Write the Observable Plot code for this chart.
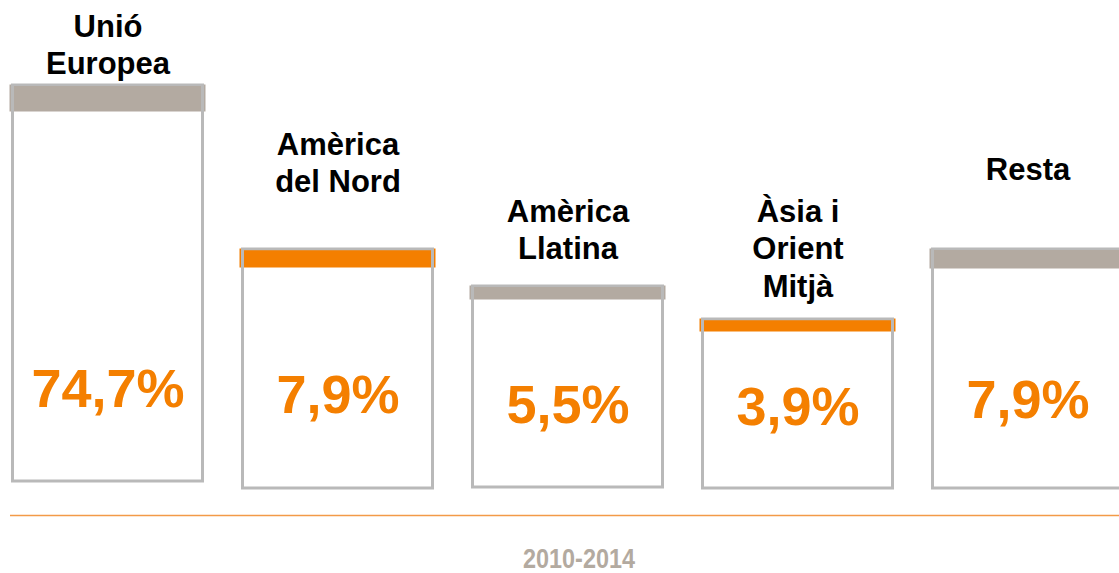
<!DOCTYPE html>
<html>
<head>
<meta charset="utf-8">
<script src="https://cdn.jsdelivr.net/npm/d3@7"></script>
<script src="https://cdn.jsdelivr.net/npm/@observablehq/plot@0.6"></script>
<style>
  html, body { margin: 0; padding: 0; background: #fff; }
  #chart svg { display: block; }
</style>
</head>
<body>
<div id="chart"></div>
<script>
// ---- data ----
const categories = ["Unió Europea", "Amèrica del Nord", "Amèrica Llatina", "Àsia i Orient Mitjà", "Resta"];
const categoryLabels = ["Unió\nEuropea", "Amèrica\ndel Nord", "Amèrica\nLlatina", "Àsia i\nOrient\nMitjà", "Resta"];
const shares = [74.7, 7.9, 5.5, 3.9, 7.9];
const shareLabels = ["74,7%", "7,9%", "5,5%", "3,9%", "7,9%"];
const accents = ["gray", "orange", "gray", "orange", "gray"];
const period = ["2010-2014"];

// ---- layout (box sizes, in y-scale units) ----
const boxTop = [403, 239, 202, 169, 239];
const boxBase = [7, 0, 1, 0, 0];
const bandDepth = [26, 18, 13, 12, 19];
const labelMid = [445, 327, 260, 241, 320];
const shareMid = [99, 93, 83, 81, 88];

const ORANGE = "#f47f00";
const BAND_GRAY = "#b3aaa1";
const OUTLINE = "#b9b9b9";

const rows = categories.map((c, i) => ({
  key: c,
  label: categoryLabels[i],
  share: shares[i],
  shareLabel: shareLabels[i],
  accent: accents[i],
  top: boxTop[i],
  base: boxBase[i],
  bandLow: boxTop[i] - bandDepth[i],
  labelMid: labelMid[i],
  shareMid: shareMid[i]
}));

const font = "'Liberation Sans', Arial, Helvetica, sans-serif";

const chart = Plot.plot({
  width: 1119,
  height: 573,
  marginLeft: 10,
  marginRight: 0,
  marginTop: 0,
  marginBottom: 0,
  style: { fontFamily: font, background: "#fff" },
  x: { type: "band", domain: categories, range: [9, 1126], paddingInner: 0.16, paddingOuter: 0, axis: null },
  y: { domain: [0, 400], range: [488, 88], axis: null },
  marks: [
    // coloured top bands
    Plot.barY(rows, {
      x: "key", y1: "bandLow", y2: "top",
      fill: d => d.accent === "orange" ? ORANGE : BAND_GRAY,
      stroke: d => d.accent === "orange" ? ORANGE : BAND_GRAY,
      strokeWidth: 1,
      insetLeft: -1, insetRight: -1
    }),
    // box outlines
    Plot.barY(rows, {
      x: "key", y1: "base", y2: "top",
      fill: "none", stroke: OUTLINE, strokeWidth: 3,
      insetLeft: 1.5, insetRight: 1.5
    }),
    Plot.barY(rows.filter(d => d.accent === "gray"), {
      x: "key", y1: "bandLow", y2: d => d.top - 1,
      fill: BAND_GRAY, insetLeft: 3, insetRight: 3
    }),
    Plot.barY(rows.filter(d => d.accent === "orange"), {
      x: "key", y1: "bandLow", y2: d => d.top - 1.5,
      fill: ORANGE, insetLeft: 3, insetRight: 3
    }),
    // category labels
    Plot.text(rows, {
      x: "key", y: "labelMid", text: "label",
      fontSize: 31, fontWeight: "bold", lineHeight: 1.2,
      fill: "#000", fontFamily: font
    }),
    // share labels
    Plot.text(rows, {
      x: "key", y: "shareMid", text: "shareLabel",
      fontSize: 54, fontWeight: "bold", fill: ORANGE, fontFamily: font
    }),
    // baseline rule
    Plot.ruleY([-27], { stroke: "#f39a48", strokeWidth: 1.5 }),
    // period label
    Plot.text(period, {
      frameAnchor: "bottom", text: d => d, lineAnchor: "bottom",
      dx: 14, dy: -6,
      fontSize: 28, fontWeight: "bold", fill: "#b3aaa0",
      fontFamily: font
    })
  ]
});

// condense the period label to match the narrow face of the original
const textGroups = chart.querySelectorAll('g[aria-label="text"]');
const periodText = textGroups[textGroups.length - 1].querySelector("text");
periodText.setAttribute("textLength", 112);
periodText.setAttribute("lengthAdjust", "spacingAndGlyphs");

document.getElementById("chart").appendChild(chart);
</script>
</body>
</html>
